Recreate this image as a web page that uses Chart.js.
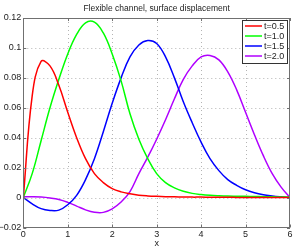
<!DOCTYPE html>
<html>
<head>
<meta charset="utf-8">
<script src="https://cdn.jsdelivr.net/npm/chart.js@4"></script>
<style>
  html, body { margin: 0; padding: 0; background: #fff; }
  #wrap { width: 295px; height: 250px; }
</style>
</head>
<body>
<div id="wrap"><canvas id="myChart" width="295" height="250"></canvas></div>
<script>
// x positions shared by all curves
const xs = [0, 0.2, 0.4, 0.6, 0.8, 1.0, 1.2, 1.4, 1.6, 1.8, 2.0, 2.2, 2.4, 2.6, 2.8, 3.0,
            3.2, 3.4, 3.6, 3.8, 4.0, 4.2, 4.4, 4.6, 4.8, 5.0, 5.2, 5.4, 5.6, 5.8, 6.0];

const seriesNames = ['t=0.5', 't=1.0', 't=1.5', 't=2.0'];
const chartTitle = 'Flexible channel, surface displacement';

// surface displacement
const eta05 = [0, 0.068, 0.091, 0.088, 0.075, 0.057, 0.040, 0.026, 0.016, 0.010, 0.006,
               0.0038, 0.0025, 0.0016, 0.0011, 0.0008, 0.0006, 0.0005, 0.0004, 0.0003, 0.0003,
               0.0002, 0.0002, 0.0002, 0.0001, 0.0001, 0.0001, 0.0001, 0.0001, 0.0001, 0.0001];
const eta10 = [0, 0.016, 0.038, 0.060, 0.079, 0.096, 0.109, 0.1168, 0.1172, 0.110, 0.096,
               0.078, 0.056, 0.039, 0.026, 0.016, 0.010, 0.0065, 0.0042, 0.0028, 0.002,
               0.0015, 0.0012, 0.001, 0.0009, 0.0008, 0.0007, 0.0006, 0.0005, 0.0004, 0.0003];
const eta15 = [0, -0.0042, -0.0074, -0.0086, -0.0084, -0.0048, 0.0015, 0.012, 0.026, 0.044, 0.063,
               0.080, 0.094, 0.102, 0.105, 0.103, 0.094, 0.080, 0.064, 0.050, 0.037,
               0.026, 0.018, 0.012, 0.0082, 0.0052, 0.0032, 0.0019, 0.0011, 0.0005, 0];
const eta20 = [0.0005, 0.0005, 0.0003, -0.0003, -0.0013, -0.0032, -0.0057, -0.0082, -0.0098, -0.0099, -0.0075,
               -0.003, 0.004, 0.016, 0.027, 0.039, 0.052, 0.066, 0.079, 0.088, 0.094,
               0.095, 0.092, 0.084, 0.072, 0.057, 0.042, 0.028, 0.016, 0.007, 0];

const yTicks = [-0.02, 0, 0.02, 0.04, 0.06, 0.08, 0.1, 0.12];
const xTicks = [0, 1, 2, 3, 4, 5, 6];

const colors = ['#ff0000', '#00ff00', '#0000ff', '#b000ff'];
const FONT = 'Helvetica, Arial, "Liberation Sans", sans-serif';

const toPoints = (vals) => vals.map((v, i) => ({ x: xs[i], y: v }));

// dotted grid under the curves
const gridPlugin = {
    id: 'dotgrid',
    beforeDatasetsDraw(chart) {
        const { ctx, chartArea: a, scales } = chart;
        ctx.save();
        ctx.strokeStyle = '#b4b4b4';
        ctx.lineWidth = 1;
        ctx.setLineDash([1, 3]);
        ctx.beginPath();
        xTicks.slice(1, -1).forEach(t => {
            const px = Math.round(scales.x.getPixelForValue(t)) + 0.5;
            ctx.moveTo(px, a.top); ctx.lineTo(px, a.bottom);
        });
        yTicks.slice(1, -1).forEach(t => {
            const py = Math.round(scales.y.getPixelForValue(t)) + 0.5;
            ctx.moveTo(a.left, py); ctx.lineTo(a.right, py);
        });
        ctx.stroke();
        ctx.restore();
    }
};

// title, grey box, inward ticks and the legend inside the plot
const framePlugin = {
    id: 'frame',
    afterDraw(chart) {
        const { ctx, chartArea: a, scales } = chart;
        ctx.save();

        ctx.fillStyle = '#222';
        ctx.font = '8.5px ' + FONT;
        ctx.textAlign = 'center';
        ctx.textBaseline = 'middle';
        ctx.fillText(chartTitle, (a.left + a.right) / 2, 8.5);

        ctx.strokeStyle = '#707070';
        ctx.lineWidth = 1;
        ctx.strokeRect(Math.round(a.left) + 0.5, Math.round(a.top) + 0.5,
                       Math.round(a.right - a.left) - 1, Math.round(a.bottom - a.top) - 1);

        ctx.beginPath();
        xTicks.forEach(t => {
            const px = Math.round(scales.x.getPixelForValue(t)) + 0.5;
            ctx.moveTo(px, a.bottom); ctx.lineTo(px, a.bottom - 3);
            ctx.moveTo(px, a.top); ctx.lineTo(px, a.top + 3);
        });
        yTicks.forEach(t => {
            const py = Math.round(scales.y.getPixelForValue(t)) + 0.5;
            ctx.moveTo(a.left, py); ctx.lineTo(a.left + 3, py);
            ctx.moveTo(a.right, py); ctx.lineTo(a.right - 3, py);
        });
        ctx.stroke();

        // legend
        const bx = Math.round(a.right) - 48, by = Math.round(a.top) + 2, bw = 45, bh = 43;
        ctx.fillStyle = '#fff';
        ctx.fillRect(bx, by, bw, bh);
        ctx.strokeStyle = '#333';
        ctx.strokeRect(bx + 0.5, by + 0.5, bw, bh);
        ctx.font = '9px ' + FONT;
        ctx.textBaseline = 'middle';
        ctx.textAlign = 'left';
        seriesNames.forEach((name, i) => {
            const y = by + 6 + i * 10;
            ctx.strokeStyle = colors[i];
            ctx.lineWidth = 1.5;
            ctx.beginPath();
            ctx.moveTo(bx + 3, y); ctx.lineTo(bx + 20, y);
            ctx.stroke();
            ctx.fillStyle = '#222';
            ctx.fillText(name, bx + 22, y + 0.5);
        });
        ctx.restore();
    }
};

const ctx = document.getElementById('myChart').getContext('2d');
new Chart(ctx, {
    type: 'line',
    data: {
        datasets: seriesNames.map((name, i) => ({
            label: name,
            data: toPoints([eta05, eta10, eta15, eta20][i]),
            borderColor: colors[i],
            borderWidth: 1.5,
            pointRadius: 0,
            fill: false,
            tension: 0.4
        }))
    },
    options: {
        responsive: false,
        animation: false,
        layout: { padding: { left: 0, right: 5, top: 18, bottom: 0 } },
        plugins: {
            legend: { display: false },
            tooltip: { enabled: false },
            title: { display: false }
        },
        scales: {
            x: {
                type: 'linear',
                min: 0, max: 6,
                afterBuildTicks: (axis) => { axis.ticks = xTicks.map(v => ({ value: v })); },
                afterFit: (axis) => { axis.height = 22.5; },
                ticks: {
                    color: '#222',
                    font: { family: FONT, size: 9 },
                    padding: 2,
                    maxRotation: 0
                },
                grid: { display: false, drawTicks: false, tickLength: 0 },
                border: { display: false },
                title: {
                    display: true, text: 'x', color: '#222',
                    font: { family: FONT, size: 9 }, padding: { top: 0, bottom: 1 }
                }
            },
            y: {
                min: -0.02, max: 0.12,
                afterBuildTicks: (axis) => { axis.ticks = yTicks.map(v => ({ value: v })); },
                afterFit: (axis) => { axis.width = 23.3; },
                ticks: {
                    color: '#222',
                    font: { family: FONT, size: 9 },
                    padding: 2,
                    callback: (v) => String(Math.round(v * 100) / 100).replace('-', '\u2212')
                },
                grid: { display: false, drawTicks: false, tickLength: 0 },
                border: { display: false }
            }
        }
    },
    plugins: [gridPlugin, framePlugin]
});
</script>
</body>
</html>
